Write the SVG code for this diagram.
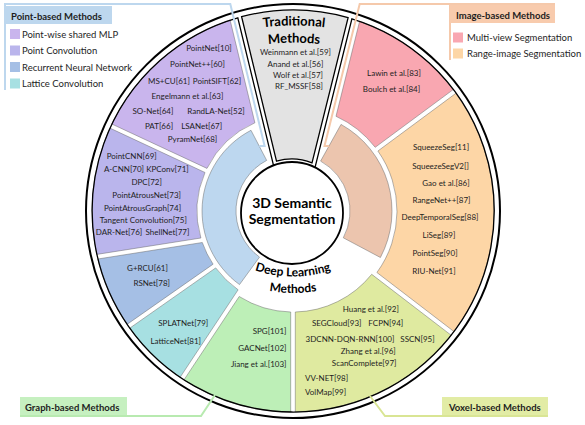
<svg xmlns="http://www.w3.org/2000/svg" width="585" height="425" viewBox="0 0 585 425">
<defs>
<style>
text{font-family:Lato,"Liberation Sans",sans-serif;fill:#1e1e1e}
.l{font-size:8px;text-anchor:middle}
.le{font-size:8px;text-anchor:end}
.ls{font-size:8px;text-anchor:start}
.hd{font-size:9.5px;font-weight:700}
.lg{font-size:9.5px}
.big{font-size:14px;font-weight:700;text-anchor:middle;fill:#000}
.arc{font-size:13px;font-weight:700;fill:#000}
.dl{font-size:12px;font-weight:700;fill:#000}
.sec{stroke:#6b6b6b;stroke-width:0.5}
.ln{fill:none;stroke-width:2}
</style>
<path id="pTrad" d="M 34,285.5 A 260 260 0 0 1 554,285.5"/>
<path id="pTradM" d="M 49,287.5 A 245 245 0 0 1 539,287.5"/>
<path id="pDL" d="M 173,156.5 A 120 120 0 0 0 413,156.5"/>
<path id="pDLM" d="M 151,151 A 142 142 0 0 0 435,151"/>
</defs>

<circle id="outer-ring" cx="293" cy="211" r="207" fill="#fff" stroke="#000" stroke-width="2"/>

<g id="node-pointwise-mlp">
<path class="sec" fill="#c9b5ed" d="M 207.0,168.4 L 111.8,124.0 A 201 201 0 0 1 230.1,20.1 L 254.9,122.8 A 96 96 0 0 0 207.0,168.4 Z"/>
<text class="l" x="209" y="50.7">PointNet[10]</text>
<text class="l" x="197.5" y="67.3">PointNet++[60]</text>
<text class="l" x="169" y="84">MS+CU[61]</text>
<text class="l" x="217" y="84">PointSIFT[62]</text>
<text class="l" x="187.5" y="99">Engelmann et al.[63]</text>
<text class="l" x="153" y="114">SO-Net[64]</text>
<text class="l" x="216" y="114">RandLA-Net[52]</text>
<text class="l" x="159" y="129">PAT[66]</text>
<text class="l" x="201.7" y="129">LSANet[67]</text>
<text class="l" x="192.5" y="142.3">PyramNet[68]</text>
</g>

<g id="node-point-convolution">
<path class="sec" fill="#bab5ec" d="M 200.9,238.0 L 96.8,254.4 A 201 201 0 0 1 109.9,128.1 L 205.0,172.5 A 96 96 0 0 0 200.9,238.0 Z"/>
<text class="l" x="131.7" y="159">PointCNN[69]</text>
<text class="l" x="124" y="172">A-CNN[70]</text>
<text class="l" x="167.5" y="172">KPConv[71]</text>
<text class="l" x="146.7" y="185">DPC[72]</text>
<text class="l" x="146.7" y="198">PointAtrousNet[73]</text>
<text class="l" x="142.5" y="210.5">PointAtrousGraph[74]</text>
<text class="l" x="143.3" y="222.5">Tangent Convolution[75]</text>
<text class="l" x="119" y="234.5">DAR-Net[76]</text>
<text class="l" x="167.5" y="234.5">ShellNet[77]</text>
</g>

<g id="node-rnn">
<path class="sec" fill="#a5bfe5" d="M 202.3,242.5 L 97.8,259.0 A 201 201 0 0 0 127.0,324.4 L 213.1,264.2 A 96 96 0 0 1 202.3,242.5 Z"/>
<text class="l" x="147.5" y="270.7">G+RCU[61]</text>
<text class="l" x="151.7" y="285.7">RSNet[78]</text>
</g>

<g id="node-lattice">
<path class="sec" fill="#a7e0e2" d="M 215.7,267.9 L 129.7,328.2 A 201 201 0 0 0 180.1,377.3 L 238.1,289.8 A 96 96 0 0 1 215.7,267.9 Z"/>
<text class="l" x="183.3" y="325.7">SPLATNet[79]</text>
<text class="l" x="175.8" y="344">LatticeNet[81]</text>
</g>

<g id="node-graph">
<path class="sec" fill="#bdefb7" d="M 290.7,312.0 L 290.7,412.0 A 201 201 0 0 1 184.0,379.9 L 239.2,296.5 A 101 101 0 0 0 290.7,312.0 Z"/>
<text class="le" x="286.5" y="334">SPG[101]</text>
<text class="le" x="286.5" y="350.7">GACNet[102]</text>
<text class="le" x="286.5" y="366.5">Jiang et al.[103]</text>
</g>

<g id="node-voxel">
<path class="sec" fill="#dfeaa0" d="M 371.7,274.3 L 451.1,335.2 A 201 201 0 0 1 295.3,412.0 L 295.3,312.0 A 101 101 0 0 0 371.7,274.3 Z"/>
<text class="l" x="370.8" y="311.5">Huang et al.[92]</text>
<text class="l" x="336.7" y="325.7">SEGCloud[93]</text>
<text class="l" x="385.8" y="325.7">FCPN[94]</text>
<text class="l" x="350" y="342.3">3DCNN-DQN-RNN[100]</text>
<text class="l" x="417.5" y="342.3">SSCN[95]</text>
<text class="l" x="368.3" y="353.5">Zhang et al.[96]</text>
<text class="l" x="364.2" y="365.5">ScanComplete[97]</text>
<text class="ls" x="305" y="380.7">VV-NET[98]</text>
<text class="ls" x="305" y="395">VolMap[99]</text>
</g>

<g id="node-range-image">
<path class="sec" fill="#fdd6a6" d="M 377.9,151.0 L 455.9,93.3 A 201 201 0 0 1 453.9,331.5 L 376.9,272.5 A 104 104 0 0 0 377.9,151.0 Z"/>
<text class="l" x="441" y="150.3">SqueezeSeg[11]</text>
<text class="l" x="440.5" y="169">SqueezeSegV2[]</text>
<text class="l" x="446" y="186.3">Gao et al.[86]</text>
<text class="l" x="441.5" y="203">RangeNet++[87]</text>
<text class="l" x="440" y="220.3">DeepTemporalSeg[88]</text>
<text class="l" x="439" y="238">LiSeg[89]</text>
<text class="l" x="435" y="255.7">PointSeg[90]</text>
<text class="l" x="434" y="273.7">RIU-Net[91]</text>
</g>

<g id="node-multi-view">
<path class="sec" fill="#f9a7b1" d="M 336.0,116.3 L 359.6,21.3 A 201 201 0 0 1 453.2,89.6 L 375.2,147.3 A 104 104 0 0 0 336.0,116.3 Z"/>
<text class="l" x="394" y="75.5">Lawin et al.[83]</text>
<text class="l" x="391.5" y="92">Boulch et al.[84]</text>
</g>

<g id="node-point-based">
<path class="sec" fill="#bdd7ef" d="M 259.5,257.1 L 239.5,284.6 A 91 91 0 0 1 251.0,130.3 L 266.7,160.4 A 57 57 0 0 0 259.5,257.1 Z"/>
</g>

<g id="node-image-based">
<path class="sec" fill="#ecc5ae" d="M 320.6,161.1 L 341.0,124.4 A 99 99 0 0 1 380.4,257.5 L 343.3,237.8 A 57 57 0 0 0 320.6,161.1 Z"/>
</g>

<g id="node-deep-learning">
<path d="M 351.9,18.8 A 201 201 0 1 1 237.8,17.8 L 275.5,173.6 L 313.5,173.7 Z" fill="none" stroke="#000" stroke-width="1.3"/>
<text class="dl"><textPath href="#pDL" startOffset="50%" text-anchor="middle">Deep Learning</textPath></text>
<text class="dl"><textPath href="#pDLM" startOffset="50%" text-anchor="middle">Methods</textPath></text>
</g>

<g id="node-traditional">
<path d="M 276.5,161.1 L 241.6,16.7 A 201 201 0 0 1 348.1,17.6 L 312.0,162.8 A 54 54 0 0 0 276.5,161.1 Z" fill="#e3e3e3" stroke="#000" stroke-width="1.3"/>
<text class="arc"><textPath href="#pTrad" startOffset="50%" text-anchor="middle">Traditional</textPath></text>
<text class="arc"><textPath href="#pTradM" startOffset="50%" text-anchor="middle">Methods</textPath></text>
<text class="l" x="295.5" y="54.8">Weinmann et al.[59]</text>
<text class="l" x="295.5" y="67">Anand et al.[56]</text>
<text class="l" x="298" y="78">Wolf et al.[57]</text>
<text class="l" x="299" y="88.5">RF_MSSF[58]</text>
</g>

<g id="node-center">
<circle cx="292" cy="213" r="51" fill="#fff" stroke="#000" stroke-width="1.8"/>
<text class="big" x="292" y="207.5">3D Semantic</text>
<text class="big" x="292" y="223.5">Segmentation</text>
</g>

<g id="connectors">
<path class="ln" stroke="#bdd7ee" d="M 5,90 V 4 H 230.3 L 264.6,146 H 259.2"/>
<path class="ln" stroke="#f5c9ab" d="M 555,4 H 359.7 L 324.5,146 H 329"/>
<path class="ln" stroke="#f5c9ab" d="M 450,4 V 60"/>
<path class="ln" stroke="#b8eab0" d="M 20,416 H 201 L 215,395"/>
<path class="ln" stroke="#d9e594" d="M 370,396 L 385,416 H 548"/>
</g>

<g id="legend-point-based">
<rect x="5" y="6" width="107" height="18" fill="#bdd7ee"/>
<text class="hd" x="11" y="19.5">Point-based Methods</text>
<rect x="10" y="29" width="10" height="10" fill="#c9b5ed"/>
<text class="lg" x="22" y="37.5">Point-wise shared MLP</text>
<rect x="10" y="45.5" width="10" height="10" fill="#bab5ec"/>
<text class="lg" x="22" y="54">Point Convolution</text>
<rect x="10" y="62" width="10" height="10" fill="#a5bfe5"/>
<text class="lg" x="22" y="70.5">Recurrent Neural Network</text>
<rect x="10" y="78.5" width="10" height="10" fill="#a7e0e2"/>
<text class="lg" x="22" y="87">Lattice Convolution</text>
</g>

<g id="legend-image-based">
<rect x="450" y="5" width="105" height="18" fill="#f8cbad"/>
<text class="hd" x="456" y="18.5">Image-based Methods</text>
<rect x="453" y="32.5" width="10" height="10" fill="#f9a7b1"/>
<text class="lg" x="467" y="41">Multi-view Segmentation</text>
<rect x="453" y="48.5" width="10" height="10" fill="#fdd6a6"/>
<text class="lg" x="467" y="57">Range-image Segmentation</text>
</g>

<g id="legend-graph-based">
<rect x="20" y="397" width="107" height="18" fill="#c6f0c0"/>
<text class="hd" x="25" y="410.5">Graph-based Methods</text>
</g>

<g id="legend-voxel-based">
<rect x="442" y="397" width="106" height="18" fill="#e2eca5"/>
<text class="hd" x="449" y="410.5">Voxel-based Methods</text>
</g>
</svg>
